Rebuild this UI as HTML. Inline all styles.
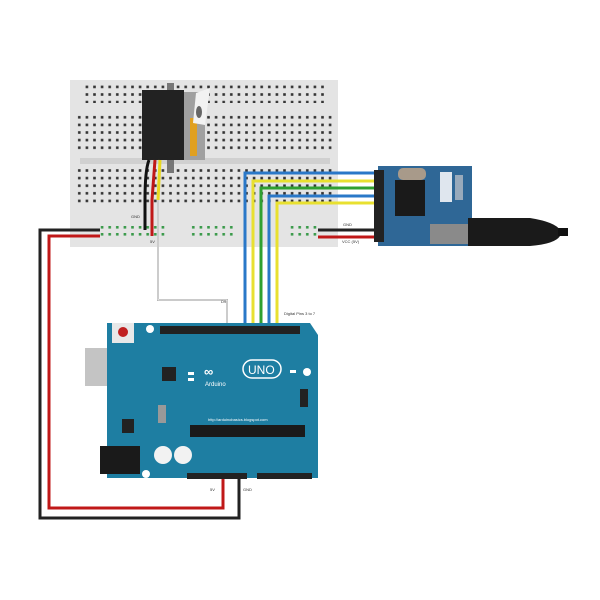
<!DOCTYPE html>
<html><head><meta charset="utf-8"><style>
html,body{margin:0;padding:0;background:#fff;}
svg{display:block;font-family:"Liberation Sans",sans-serif;}
</style></head><body>
<svg width="600" height="600" viewBox="0 0 600 600" xmlns="http://www.w3.org/2000/svg">
<defs>
<pattern id="dots" width="7.6" height="7.6" patternUnits="userSpaceOnUse"><rect x="2" y="2" width="2.6" height="2.6" fill="#333"/></pattern>
<pattern id="gdots" width="7.6" height="7" patternUnits="userSpaceOnUse"><rect x="2" y="2" width="2.6" height="2.6" fill="#3a9a4a"/></pattern>
</defs>
<rect x="70" y="80" width="268" height="167" fill="#e4e4e4"/>
<rect x="84" y="85" width="240" height="18" fill="url(#dots)"/>
<rect x="76" y="115" width="256" height="38" fill="url(#dots)"/>
<rect x="76" y="165" width="256" height="38" fill="url(#dots)"/>
<rect x="80" y="158" width="250" height="6" fill="#d0d0d0"/>
<rect x="100" y="224" width="40" height="14" fill="url(#gdots)"/>
<rect x="190" y="224" width="45" height="14" fill="url(#gdots)"/>
<rect x="290" y="224" width="30" height="14" fill="url(#gdots)"/>
<rect x="140" y="224" width="28" height="14" fill="url(#gdots)"/>
<rect x="167" y="83" width="7" height="90" fill="#777"/>
<rect x="142" y="90" width="42" height="70" fill="#222"/>
<rect x="184" y="92" width="21" height="68" fill="#a0a0a0"/>
<rect x="190" y="118" width="7" height="38" fill="#e0a020"/>
<path d="M196 93 L210 88 L205 125 L193 123 Z" fill="#f2f2f2"/>
<ellipse cx="201" cy="108" rx="5" ry="10" fill="#f2f2f2"/>
<ellipse cx="199" cy="112" rx="3" ry="6" fill="#666"/>
<path d="M149 160 Q145 170 145 200 L145 230" stroke="#111" stroke-width="3" fill="none"/>
<path d="M155 160 L152 200 L152 236" stroke="#c01818" stroke-width="3" fill="none"/>
<path d="M160 160 L158 200" stroke="#e8d820" stroke-width="3" fill="none"/>
<path d="M158 200 L158 300 L227 300 L227 325" stroke="#aaa" stroke-width="2" fill="none"/>
<path d="M158 200 L158 300 L227 300 L227 325" stroke="#fff" stroke-width="0.8" fill="none"/>
<text x="131" y="218" font-size="4" fill="#333">GND</text>
<text x="150" y="243" font-size="4" fill="#333">5V</text>
<text x="221" y="303" font-size="4" fill="#333">D9</text>
<text x="284" y="315" font-size="4" fill="#333">Digital Pins 3 to 7</text>
<polyline points="100,230 40,230 40,518 239,518 239,476" stroke="#222" stroke-width="3" fill="none"/>
<polyline points="100,236 49,236 49,508 223,508 223,476" stroke="#c01818" stroke-width="3" fill="none"/>
<text x="210" y="491" font-size="4" fill="#333">5V</text>
<text x="243" y="491" font-size="4" fill="#333">GND</text>
<polyline points="375,173 245,173 245,325" stroke="#2a78c8" stroke-width="3" fill="none"/>
<polyline points="375,181 253,181 253,325" stroke="#e8e030" stroke-width="3" fill="none"/>
<polyline points="375,188 261,188 261,325" stroke="#30a030" stroke-width="3" fill="none"/>
<polyline points="375,196 269,196 269,325" stroke="#2a78c8" stroke-width="3" fill="none"/>
<polyline points="375,203 277,203 277,325" stroke="#e8e030" stroke-width="3" fill="none"/>
<line x1="318" y1="230" x2="380" y2="230" stroke="#222" stroke-width="3"/>
<line x1="318" y1="237" x2="380" y2="237" stroke="#c01818" stroke-width="3"/>
<text x="343" y="226" font-size="4" fill="#333">GND</text>
<text x="342" y="243" font-size="4" fill="#333">VCC (5V)</text>
<!-- module -->
<rect x="378" y="166" width="94" height="80" fill="#2f6796"/>
<rect x="374" y="170" width="10" height="72" fill="#222"/>
<rect x="395" y="180" width="30" height="36" fill="#1a1a1a"/>
<rect x="398" y="168" width="28" height="12" rx="5" fill="#a89a8a"/>
<rect x="440" y="172" width="12" height="30" fill="#dfe6ee"/>
<rect x="455" y="175" width="8" height="25" fill="#9ab"/>
<rect x="430" y="224" width="42" height="20" fill="#8a8a8a"/>
<path d="M468 218 L530 218 Q555 222 560 230 L560 236 Q555 244 530 246 L468 246 Z" fill="#1a1a1a"/>
<rect x="558" y="228" width="10" height="8" fill="#111"/>
<!-- arduino -->
<rect x="85" y="348" width="30" height="38" fill="#c4c4c4"/>
<path d="M107 323 L310 323 L318 335 L318 478 L107 478 Z" fill="#1e7ea2"/>
<rect x="100" y="446" width="40" height="28" fill="#1a1a1a"/>
<rect x="112" y="323" width="22" height="20" fill="#e8e8e8"/>
<circle cx="123" cy="332" r="5" fill="#c02020"/>
<rect x="160" y="326" width="140" height="8" fill="#222"/>
<rect x="190" y="425" width="115" height="12" fill="#1a1a1a"/>
<rect x="162" y="367" width="14" height="14" fill="#222"/>
<rect x="158" y="405" width="8" height="18" fill="#999"/>
<rect x="122" y="419" width="12" height="14" fill="#222"/>
<circle cx="163" cy="455" r="9" fill="#f2f2f2"/>
<circle cx="183" cy="455" r="9" fill="#f2f2f2"/>
<rect x="187" y="473" width="60" height="6" fill="#222"/>
<rect x="257" y="473" width="55" height="6" fill="#222"/>
<circle cx="150" cy="329" r="4" fill="#fff"/>
<circle cx="307" cy="372" r="4" fill="#fff"/>
<circle cx="146" cy="474" r="4" fill="#fff"/>
<rect x="300" y="389" width="8" height="18" fill="#222"/>
<text x="204" y="376" font-size="13" fill="#fff" font-weight="bold">∞</text>
<rect x="243" y="360" width="38" height="18" rx="9" fill="none" stroke="#fff" stroke-width="1.5"/>
<text x="248" y="374" font-size="12" fill="#fff">UNO</text>
<text x="205" y="386" font-size="6" fill="#fff">Arduino</text>
<text x="208" y="421" font-size="4" fill="#fff">http://arduinobasics.blogspot.com</text>
<rect x="188" y="372" width="6" height="3" fill="#fff"/><rect x="188" y="378" width="6" height="3" fill="#fff"/>
<rect x="290" y="370" width="6" height="3" fill="#fff"/>
</svg>
</body></html>
